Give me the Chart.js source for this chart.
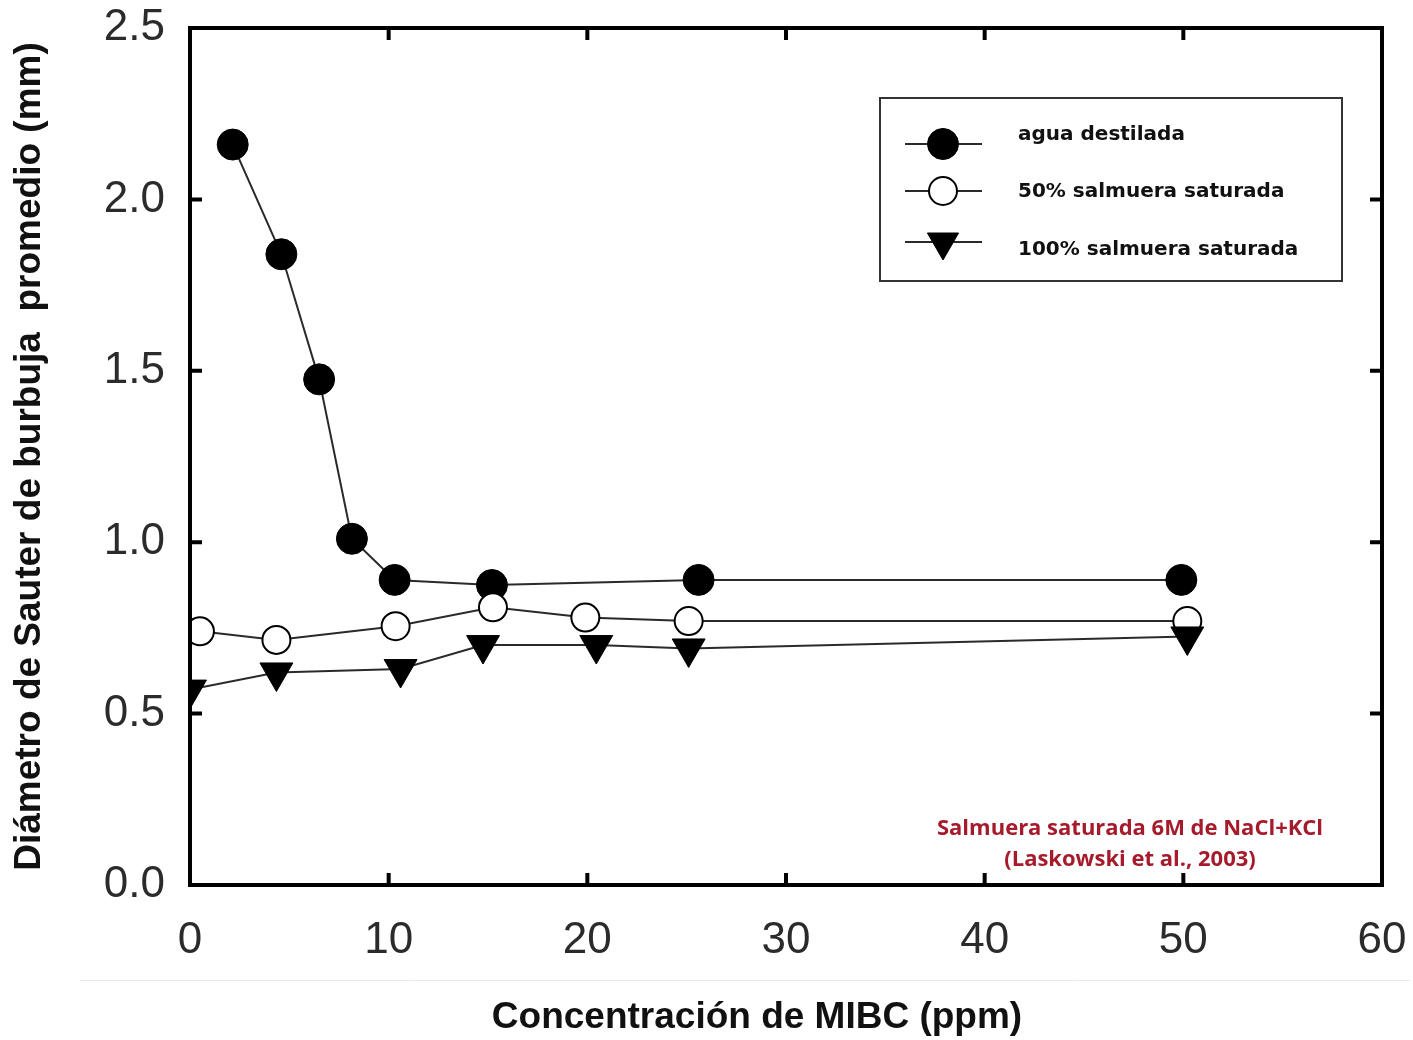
<!DOCTYPE html>
<html>
<head>
<meta charset="utf-8">
<script src="https://cdn.jsdelivr.net/npm/chart.js@4/dist/chart.umd.min.js"></script>
<style>
  html, body { margin: 0; padding: 0; background: #fff; }
  #wrap { width: 1413px; height: 1040px; position: relative; }
</style>
</head>
<body>
<div id="wrap"><canvas id="chart"></canvas></div>
<script>
// values
const aguaX = [2.15, 4.6, 6.5, 8.15, 10.3, 15.2, 25.6, 49.9];
const aguaY = [2.16, 1.84, 1.475, 1.01, 0.89, 0.875, 0.89, 0.89];

const salm50X = [0.5, 4.35, 10.35, 15.25, 19.9, 25.1, 50.2];
const salm50Y = [0.74, 0.715, 0.755, 0.81, 0.78, 0.77, 0.77];

const salm100X = [0, 4.35, 10.6, 14.75, 20.45, 25.1, 50.2];
const salm100Y = [0.57, 0.62, 0.63, 0.70, 0.70, 0.69, 0.725];

const seriesNames = ["agua destilada", "50% salmuera saturada", "100% salmuera saturada"];
const noteLines = ["Salmuera saturada 6M de NaCl+KCl", "(Laskowski et al., 2003)"];

const xTitle = "Concentración de MIBC (ppm)";
const yTitle = "Diámetro de Sauter de burbuja  promedio (mm)";

function toPoints(xs, ys) {
  return xs.map((x, i) => ({ x, y: ys[i] }));
}

const LINE = "#2a2a2a";

function lineDataset(label, data, style, order) {
  return {
    label,
    data,
    order,
    showLine: true,
    borderColor: LINE,
    borderWidth: 2,
    tension: 0,
    pointStyle: style.pointStyle,
    pointRadius: style.radius,
    pointRotation: style.rotation || 0,
    pointBackgroundColor: style.fill,
    pointBorderColor: "#000",
    pointBorderWidth: style.borderWidth
  };
}

const styles = [
  { pointStyle: "circle", radius: 15.5, fill: "#000", borderWidth: 1 },
  { pointStyle: "circle", radius: 14, fill: "#fff", borderWidth: 2 },
  { pointStyle: "triangle", radius: 19, rotation: 180, fill: "#000", borderWidth: 1 }
];

// frame box with inward ticks on all four sides
const framePlugin = {
  id: "frame",
  afterDatasetsDraw(chart) {
    const { ctx, chartArea: a, scales } = chart;
    ctx.save();
    ctx.strokeStyle = "#000";
    ctx.lineWidth = 4;
    ctx.strokeRect(a.left, a.top, a.right - a.left, a.bottom - a.top);
    const len = 12;
    ctx.beginPath();
    scales.x.ticks.forEach(t => {
      if (t.value <= 0 || t.value >= 60) return;
      const px = scales.x.getPixelForValue(t.value);
      ctx.moveTo(px, a.bottom); ctx.lineTo(px, a.bottom - len);
      ctx.moveTo(px, a.top); ctx.lineTo(px, a.top + len);
    });
    scales.y.ticks.forEach(t => {
      if (t.value <= 0 || t.value >= 2.5) return;
      const py = scales.y.getPixelForValue(t.value);
      ctx.moveTo(a.left, py); ctx.lineTo(a.left + len, py);
      ctx.moveTo(a.right, py); ctx.lineTo(a.right - len, py);
    });
    ctx.stroke();
    ctx.restore();
  },
  afterDraw(chart) {
    const { ctx } = chart;
    ctx.save();
    // faint separator above the x title
    ctx.strokeStyle = "#e8e8e8";
    ctx.lineWidth = 1;
    ctx.beginPath();
    ctx.moveTo(80, 980.5); ctx.lineTo(1410, 980.5);
    ctx.stroke();
    // x axis title, sits a bit left of the plot centre in the original
    ctx.fillStyle = "#111";
    ctx.font = "bold 37px 'Liberation Sans', Arial, sans-serif";
    ctx.textAlign = "center";
    ctx.textBaseline = "middle";
    ctx.fillText(xTitle, 757, 1018);
    ctx.restore();
  }
};

// boxed legend with a line through each marker
const legendPlugin = {
  id: "boxLegend",
  afterDraw(chart) {
    const { ctx } = chart;
    const box = { x: 880, y: 98, w: 462, h: 183 };
    const markRows = [144, 191, 242];
    const textRows = [135, 192, 250];
    ctx.save();
    ctx.fillStyle = "#fff";
    ctx.fillRect(box.x, box.y, box.w, box.h);
    ctx.strokeStyle = "#333";
    ctx.lineWidth = 2;
    ctx.strokeRect(box.x, box.y, box.w, box.h);
    chart.data.datasets.forEach((ds, i) => {
      const y = markRows[i];
      ctx.strokeStyle = LINE;
      ctx.lineWidth = 2;
      ctx.beginPath();
      ctx.moveTo(905, y); ctx.lineTo(982, y);
      ctx.stroke();
      ctx.fillStyle = ds.pointBackgroundColor;
      ctx.strokeStyle = ds.pointBorderColor;
      ctx.lineWidth = ds.pointBorderWidth;
      Chart.helpers.drawPoint(ctx, {
        pointStyle: ds.pointStyle,
        radius: ds.pointStyle === "triangle" ? 18 : ds.pointRadius,
        rotation: ds.pointRotation,
        borderWidth: ds.pointBorderWidth
      }, 943, y);
      ctx.fillStyle = "#111";
      ctx.font = "bold 20px 'DejaVu Sans', sans-serif";
      ctx.textBaseline = "middle";
      ctx.textAlign = "left";
      ctx.fillText(ds.label, 1018, textRows[i]);
    });
    // source note
    ctx.fillStyle = "#a61b2b";
    ctx.font = "bold 22px 'Open Sans', sans-serif";
    ctx.textAlign = "center";
    ctx.textBaseline = "middle";
    ctx.fillText(noteLines[0], 1130, 829);
    ctx.fillText(noteLines[1], 1130, 860);
    ctx.restore();
  }
};

new Chart(document.getElementById("chart"), {
  type: "scatter",
  data: {
    datasets: [
      lineDataset(seriesNames[0], toPoints(aguaX, aguaY), styles[0], 3),
      lineDataset(seriesNames[1], toPoints(salm50X, salm50Y), styles[1], 2),
      lineDataset(seriesNames[2], toPoints(salm100X, salm100Y), styles[2], 1)
    ]
  },
  options: {
    responsive: true,
    maintainAspectRatio: false,
    animation: false,
    layout: { padding: { top: 28, right: 31, left: 0, bottom: 0 } },
    plugins: { legend: { display: false }, tooltip: { enabled: false } },
    scales: {
      x: {
        type: "linear",
        min: 0, max: 60,
        grid: { display: false, drawTicks: false },
        border: { display: false },
        ticks: {
          stepSize: 10,
          padding: 29,
          color: "#2b2b2b",
          font: { family: "'Liberation Sans', Arial, sans-serif", size: 44 }
        },
        afterFit(scale) {
          scale.height = 155;
          scale.paddingLeft = 0;
          scale.paddingRight = 0;
        }
      },
      y: {
        type: "linear",
        min: 0, max: 2.5,
        grid: { display: false, drawTicks: false },
        border: { display: false },
        ticks: {
          stepSize: 0.5,
          padding: 25,
          color: "#2b2b2b",
          font: { family: "'Liberation Sans', Arial, sans-serif", size: 44 },
          callback: v => v.toFixed(1)
        },
        title: {
          display: true,
          text: yTitle,
          color: "#111",
          padding: { top: 8, bottom: 0 },
          font: { family: "'Liberation Sans', Arial, sans-serif", size: 37, weight: "bold" }
        },
        afterFit(scale) {
          scale.width = 190;
          scale.paddingTop = 0;
          scale.paddingBottom = 0;
        }
      }
    }
  },
  plugins: [framePlugin, legendPlugin]
});
</script>
</body>
</html>
